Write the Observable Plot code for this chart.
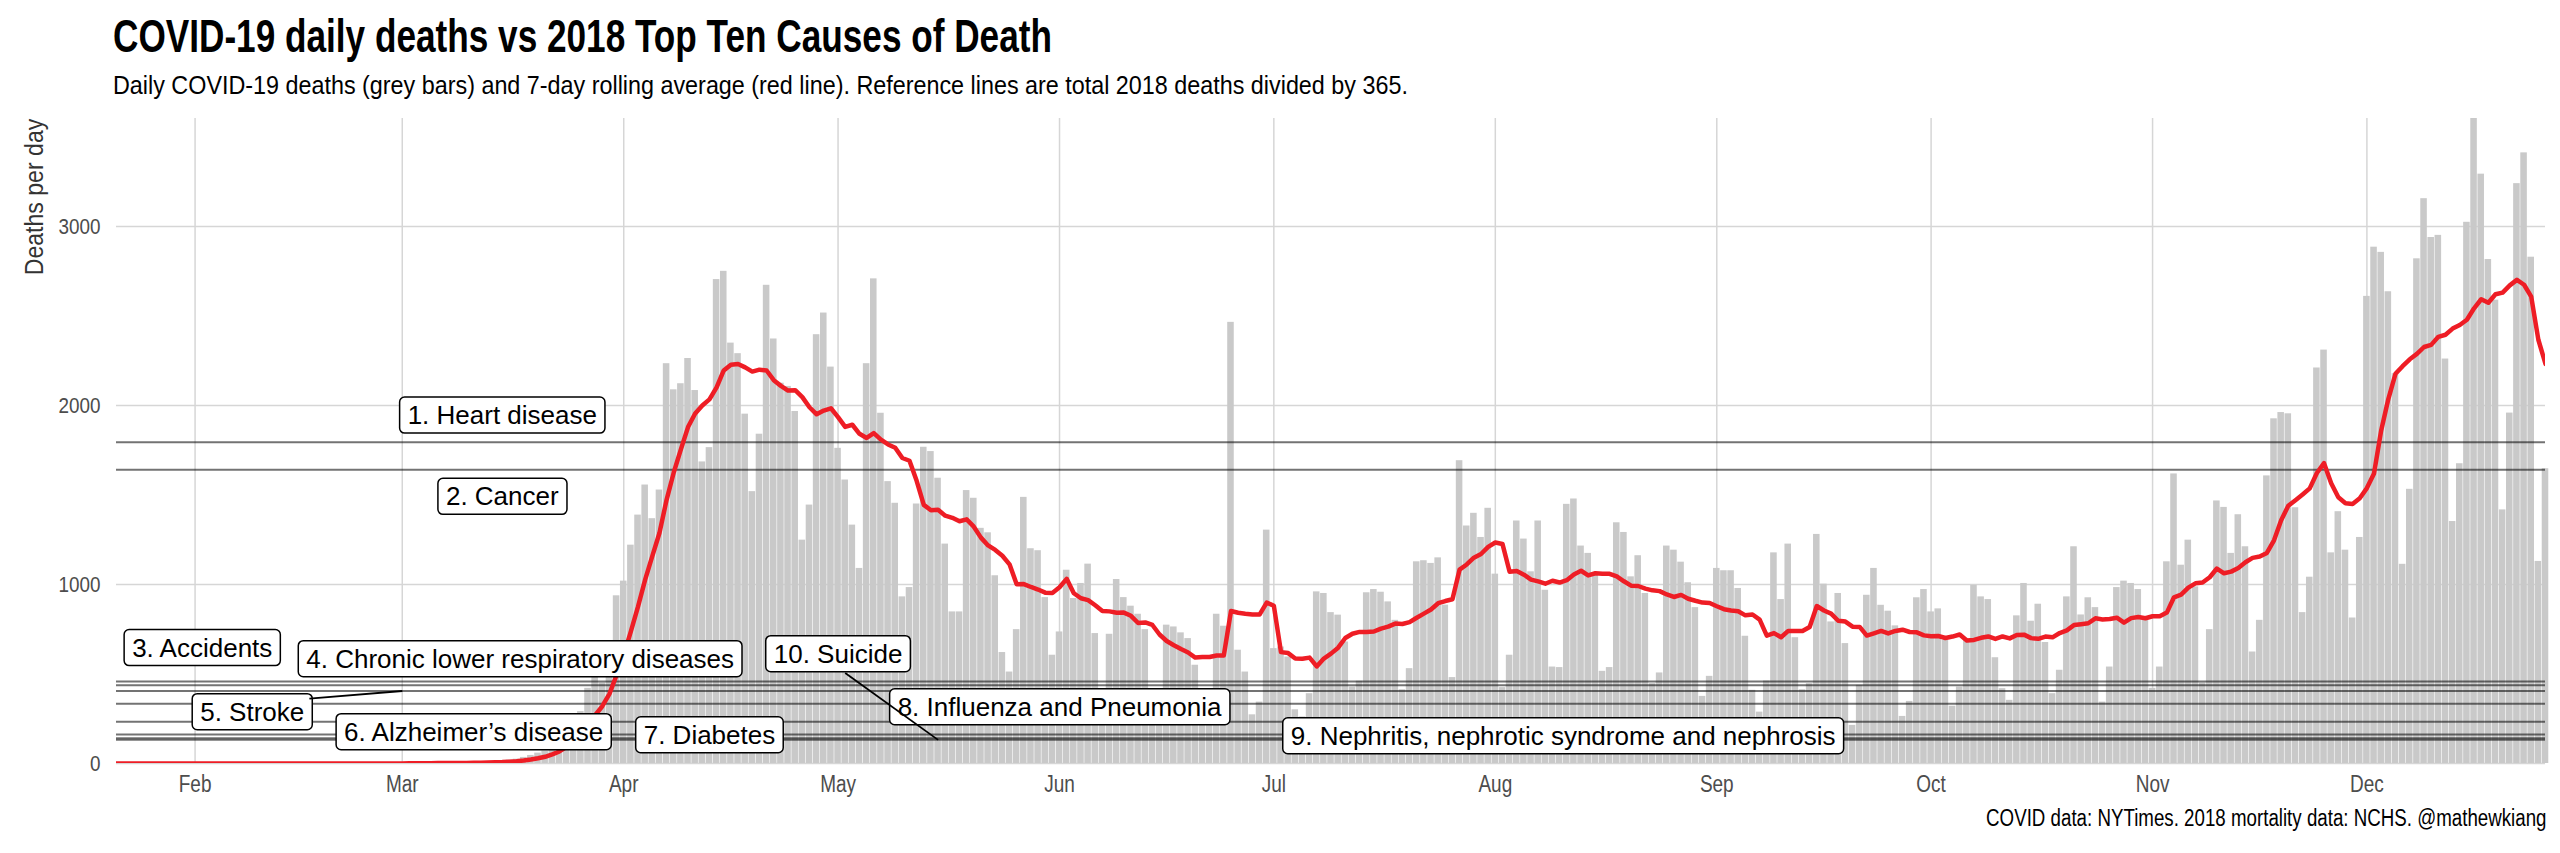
<!DOCTYPE html>
<html>
<head>
<meta charset="utf-8">
<script src="https://cdn.jsdelivr.net/npm/d3@7"></script>
<script src="https://cdn.jsdelivr.net/npm/@observablehq/plot@0.6"></script>
<style>
  html, body { margin: 0; padding: 0; background: #fff; }
  #wrap { position: relative; width: 2560px; height: 853px; overflow: hidden; background: #fff; }
  .t { position: absolute; white-space: nowrap; line-height: 1; transform-origin: 0 0; }
  .narrow { font-family: 'Liberation Sans Narrow', 'Arial Narrow', 'Liberation Sans', Arial, sans-serif; }
  #title { left: 113px; top: 13px; font-size: 46px; font-weight: bold; color: #000; }
  #subtitle { left: 113px; top: 72.8px; font-size: 25px; color: #000; }
  #caption { right: 14px; top: 806.5px; font-size: 23px; color: #000; transform-origin: 100% 0; }
  #ytitle { left: 34px; top: 196.5px; font-size: 25px; color: #333; transform-origin: 50% 50%; }
  #chart { position: absolute; left: 0; top: 100px; }
</style>
</head>
<body>
<div id="wrap">
  <div id="title" class="t narrow">COVID-19 daily deaths vs 2018 Top Ten Causes of Death</div>
  <div id="subtitle" class="t narrow">Daily COVID-19 deaths (grey bars) and 7-day rolling average (red line). Reference lines are total 2018 deaths divided by 365.</div>
  <div id="ytitle" class="t narrow">Deaths per day</div>
  <div id="chart"></div>
  <div id="caption" class="t narrow">COVID data: NYTimes. 2018 mortality data: NCHS. @mathewkiang</div>
</div>
<script>
// ---------- Data: daily COVID-19 deaths (NYTimes) ----------
const deathsJan = [0,0,0,0,0,0,0,0,0,0,0]; // from Jan 21
const deathsFeb = [0,0,0,0,0,0,0,0,0,0,0,0,0,0,0,0,0,0,0,0,0,0,0,0,0,0,0,0,1];
const deathsMar = [1,5,1,4,1,2,3,4,4,5,8,7,10,11,12,19,24,34,45,58,70,105,135,200,245,290,420,500,450,620,937];
const deathsApr = [1019,1220,1388,1556,1368,1528,2234,2088,2122,2263,2084,1685,1765,2704,2750,2349,2290,1952,1519,1840,2672,2372,2125,2107,1967,1248,1444,2396,2517,2215];
const deathsMay = [1761,1584,1332,1090,2234,2708,1957,1575,1454,931,983,1450,1767,1743,1594,1226,847,847,1525,1482,1314,1289,1049,620,511,748,1487,1200,1189,927,605];
const deathsJun = [735,1080,922,1006,1114,726,380,722,1028,927,879,834,748,280,350,773,763,730,698,549,300,350,834,767,2465,633,511,272,343,1304];
const deathsJul = [642,651,595,300,260,390,959,950,843,829,679,427,460,954,972,957,903,800,412,530,1127,1133,1118,1149,885,480,1692,1327,1398,1263,1426];
const deathsAug = [1058,424,605,1355,1254,1071,1355,968,539,536,1448,1478,1215,1174,1052,515,536,1345,1291,1043,1161,950,446,506,1215,1192,1125,1010,871,375,487];
const deathsSep = [1090,1077,1077,978,711,409,287,461,1177,916,1226,703,412,446,1280,1002,791,950,670,213,437,940,1090,884,851,769,263,347,926,972];
const deathsOct = [847,864,689,320,427,689,996,931,916,591,418,353,825,1006,795,890,676,390,521,931,1211,830,926,871,343,539,983,1019,1006,972,820];
const deathsNov = [420,539,1127,1618,1108,1248,987,450,748,1467,1431,1174,1390,1211,623,800,1607,1926,1961,1954,1429,843,1041,2210,2310,1177,1407,1192,813,1263];
const deathsDec = [2610,2885,2856,2636,2178,1113,1532,2820,3156,2939,2951,2260,1352,1675,3024,3604,3293,2816,2589,1417,1958,3240,3412,2829,1129,1647];

const monthStarts = ["2020-01-21","2020-02-01","2020-03-01","2020-04-01","2020-05-01","2020-06-01","2020-07-01","2020-08-01","2020-09-01","2020-10-01","2020-11-01","2020-12-01"];
const monthSeries = [deathsJan, deathsFeb, deathsMar, deathsApr, deathsMay, deathsJun, deathsJul, deathsAug, deathsSep, deathsOct, deathsNov, deathsDec];

// ---------- 2018 top ten causes of death (deaths per day = 2018 total / 365) ----------
const causes = ["1. Heart disease", "2. Cancer", "3. Accidents", "4. Chronic lower respiratory diseases", "5. Stroke",
  "6. Alzheimer\u2019s disease", "7. Diabetes", "8. Influenza and Pneumonia", "9. Nephritis, nephrotic syndrome and nephrosis", "10. Suicide"];
const deathsPerDay2018 = [1795.6, 1641.8, 457.9, 436.9, 405.0, 334.3, 232.7, 162.0, 140.8, 132.4];
// label placement (date, deaths/day) as repelled in the original
const labelDates  = ["2020-03-15", "2020-03-15", "2020-02-02", "2020-03-17T12:00", "2020-02-09", "2020-03-11", "2020-04-13", "2020-06-01", "2020-08-10T12:00", "2020-05-01"];
const labelValues = [1943, 1489, 644, 582, 286, 174, 157, 313, 151, 610];
// leader segments (Stroke, Suicide)
const segFromDates  = ["2020-02-17", "2020-05-02"];
const segFromValues = [362, 506];
const segToDates    = ["2020-03-01", "2020-05-15"];
const segToValues   = [405, 132];

// ---------- Axis ticks ----------
const yTicks = [0, 1000, 2000, 3000];
const monthTicks = ["2020-02-01","2020-03-01","2020-04-01","2020-05-01","2020-06-01","2020-07-01","2020-08-01","2020-09-01","2020-10-01","2020-11-01","2020-12-01"];
const monthLabels = ["Feb","Mar","Apr","May","Jun","Jul","Aug","Sep","Oct","Nov","Dec"];

// ---------- Build tables ----------
const daily = monthStarts.flatMap((s, m) => monthSeries[m].map((v, i) => ({date: d3.utcDay.offset(new Date(s), i), deaths: v})));
const refs = causes.map((c, i) => ({cause: c, perDay: deathsPerDay2018[i]}));
const labels = causes.map((c, i) => ({name: c, date: new Date(labelDates[i]), value: labelValues[i]}));
const segs = segFromDates.map((d, i) => ({d1: new Date(d), v1: segFromValues[i], d2: new Date(segToDates[i]), v2: segToValues[i]}));
const ticksX = monthTicks.map((d, i) => ({date: new Date(d), label: monthLabels[i]}));

const narrow = "'Liberation Sans Narrow', 'Arial Narrow', 'Liberation Sans', Arial, sans-serif";
const regular = "'Liberation Sans', Arial, Helvetica, sans-serif";
const grid = "#d6d6d6";

const chart = Plot.plot({
  width: 2560,
  height: 712,
  marginLeft: 116,
  marginRight: 15,
  marginTop: 18,
  marginBottom: 49,
  x: {type: "utc", domain: d3.extent(daily, d => d.date), axis: null},
  y: {domain: [0, d3.max(daily, d => d.deaths)], axis: null},
  style: {background: "transparent", overflow: "visible"},
  marks: [
    Plot.ruleY(yTicks, {stroke: grid, strokeWidth: 1.5}),
    Plot.ruleX(ticksX, {x: "date", stroke: grid, strokeWidth: 1.5}),
    Plot.rect(daily, {
      x1: d => d3.utcHour.offset(d.date, -11),
      x2: d => d3.utcHour.offset(d.date, 11),
      y1: 0, y2: "deaths", fill: "#c9c9c9"
    }),
    Plot.ruleY(refs, {y: "perDay", stroke: "#000", strokeOpacity: 0.55, strokeWidth: 2}),
    Plot.lineY(daily, Plot.windowY({k: 7, anchor: "end"}, {
      x: "date", y: "deaths", stroke: "#ee1d25", strokeWidth: 4.5, strokeLinejoin: "round", clip: true
    })),
    Plot.text(yTicks, {y: d => d, frameAnchor: "left", text: d => String(d), textAnchor: "end", dx: -16,
      fontSize: 23, fontFamily: narrow, fill: "#4d4d4d"}),
    Plot.text(ticksX, {x: "date", frameAnchor: "bottom", text: "label", lineAnchor: "bottom", dy: 28,
      fontSize: 23, fontFamily: narrow, fill: "#4d4d4d"}),
    Plot.text(labels, {x: "date", y: "value", text: "name", fontSize: 26, fontFamily: regular, fill: "#000"}),
    Plot.link(segs, {x1: "d1", y1: "v1", x2: "d2", y2: "v2", stroke: "#000", strokeWidth: 1.8})
  ]
});
document.getElementById("chart").append(chart);

// ---------- Post-layout: label boxes, narrow font fitting ----------
const NS = "http://www.w3.org/2000/svg";
const textGroups = chart.querySelectorAll('g[aria-label="text"]');
function squeeze(g, sx) {
  for (const t of g.querySelectorAll("text")) {
    const tr = t.getAttribute("transform");
    if (tr) t.setAttribute("transform", tr + ` scale(${sx},1)`);
    else {
      const x = +(t.getAttribute("x") || 0), y = +(t.getAttribute("y") || 0);
      t.setAttribute("transform", `translate(${x},${y}) scale(${sx},1) translate(${-x},${-y})`);
    }
  }
}
function widthOf(g, str) {
  for (const t of g.querySelectorAll("text")) if (t.textContent === str) return t.getBBox().width;
  return null;
}
if (textGroups.length >= 3) {
  const yg = textGroups[0], xg = textGroups[1], lg = textGroups[2];
  const wy = widthOf(yg, "3000"); if (wy) squeeze(yg, 42 / wy);
  const wx = widthOf(xg, "Mar"); if (wx) squeeze(xg, 33 / wx);
  for (const t of Array.from(lg.querySelectorAll("text"))) {
    const b = t.getBBox();
    const r = document.createElementNS(NS, "rect");
    r.setAttribute("x", b.x - 8);
    r.setAttribute("y", b.y - 3);
    r.setAttribute("width", b.width + 16);
    r.setAttribute("height", b.height + 6);
    r.setAttribute("rx", 5);
    r.setAttribute("fill", "#fff");
    r.setAttribute("stroke", "#000");
    r.setAttribute("stroke-width", 1.5);
    const tr = t.getAttribute("transform");
    if (tr) r.setAttribute("transform", tr);
    lg.insertBefore(r, t);
  }
}

function fitX(id, target, extra) {
  const el = document.getElementById(id);
  const s = target / el.offsetWidth;
  el.style.transform = (extra || "") + `scaleX(${s})`;
}
fitX("title", 939);
fitX("subtitle", 1295);
fitX("caption", 560);
fitX("ytitle", 157, "translate(-50%,-50%) rotate(-90deg) ");
</script>
</body>
</html>
